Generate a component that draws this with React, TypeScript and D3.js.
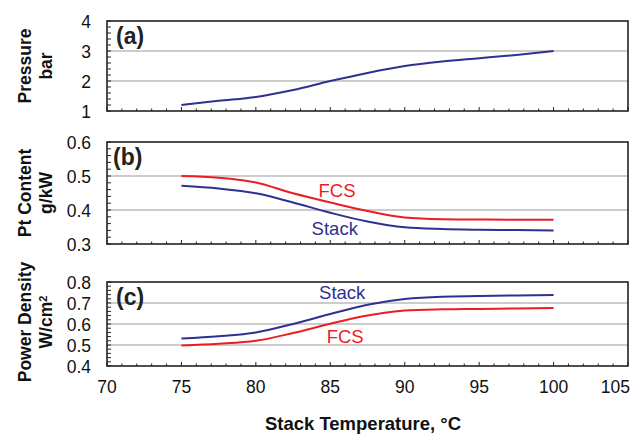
import React, { useRef, useEffect } from "react";
import * as d3 from "d3";

// stack temperature, degC
const temps = [75, 77.5, 80, 82.5, 85, 87.5, 90, 92.5, 95, 97.5, 100];
// (a) pressure, bar
const pressure = [1.2, 1.34, 1.47, 1.7, 2.0, 2.27, 2.5, 2.65, 2.76, 2.87, 3.0];
// (b) Pt content, g/kW
const ptFcs = [0.5, 0.495, 0.481, 0.449, 0.422, 0.397, 0.378, 0.373, 0.372, 0.371, 0.371];
const ptStack = [0.471, 0.463, 0.449, 0.422, 0.392, 0.366, 0.349, 0.344, 0.342, 0.341, 0.34];
// (c) power density, W/cm2
const pdStack = [0.531, 0.542, 0.56, 0.6, 0.648, 0.692, 0.719, 0.73, 0.733, 0.736, 0.738];
const pdFcs = [0.498, 0.506, 0.52, 0.557, 0.601, 0.64, 0.664, 0.67, 0.672, 0.674, 0.676];

const xTicks = [70, 75, 80, 85, 90, 95, 100, 105];
const pressureTicks = [1, 2, 3, 4];
const ptTicks = [0.3, 0.4, 0.5, 0.6];
const pdTicks = [0.4, 0.5, 0.6, 0.7, 0.8];

const NAVY = "#2e3192";
const RED = "#ed1c24";
const FONT = "'Liberation Sans', Arial, sans-serif";

const App = () => {
  const ref = useRef(null);

  const draw = (elt) => {
    d3.select(elt).select("svg").remove();
    const W = 631, H = 434;
    const svg = d3
      .select(elt)
      .append("svg")
      .attr("width", W)
      .attr("height", H)
      .style("position", "absolute")
      .style("left", 0)
      .style("top", 0)
      .style("font-family", FONT);

    svg.append("rect").attr("width", W).attr("height", H).attr("fill", "#fff");

    const x = d3.scaleLinear().domain([70, 105]).range([107, 628]);

    const panels = [
      {
        tag: "(a)", top: 21, bottom: 111, ticks: pressureTicks, minor: 0.2, fmt: d3.format("d"),
        title: ["Pressure", "bar"],
        series: [{ values: pressure, color: NAVY }],
        notes: [],
      },
      {
        tag: "(b)", top: 142, bottom: 244, ticks: ptTicks, minor: 0.02, fmt: d3.format(".1f"),
        title: ["Pt Content", "g/kW"],
        series: [{ values: ptFcs, color: RED }, { values: ptStack, color: NAVY }],
        notes: [
          { text: "FCS", t: 85.45, v: 0.438, color: RED },
          { text: "Stack", t: 85.3, v: 0.326, color: NAVY },
        ],
      },
      {
        tag: "(c)", top: 282, bottom: 366, ticks: pdTicks, minor: 0.02, fmt: d3.format(".1f"),
        title: ["Power Density", "W/cm"],
        series: [{ values: pdFcs, color: RED }, { values: pdStack, color: NAVY }],
        notes: [
          { text: "Stack", t: 85.8, v: 0.719, color: NAVY },
          { text: "FCS", t: 86.0, v: 0.51, color: RED },
        ],
      },
    ];

    panels.forEach((p, pi) => {
      const lo = p.ticks[0], hi = p.ticks[p.ticks.length - 1];
      const y = d3.scaleLinear().domain([lo, hi]).range([p.bottom, p.top]);
      const g = svg.append("g");

      // grid lines at inner major ticks
      g.selectAll(".grid")
        .data(p.ticks.slice(1, -1))
        .enter()
        .append("line")
        .attr("x1", x(70)).attr("x2", x(105))
        .attr("y1", (d) => y(d)).attr("y2", (d) => y(d))
        .attr("stroke", "#999")
        .attr("stroke-width", 1);

      // y minor/major ticks, inward
      const yMinor = d3.range(lo, hi + p.minor / 2, p.minor);
      g.selectAll(".ytick")
        .data(yMinor)
        .enter()
        .append("line")
        .attr("x1", x(70)).attr("x2", x(70) + 4)
        .attr("y1", (d) => y(d)).attr("y2", (d) => y(d))
        .attr("stroke", "#222").attr("stroke-width", 1);

      // x ticks, inward from bottom
      const xMinor = d3.range(70, 105.5, 1);
      g.selectAll(".xtick")
        .data(xMinor)
        .enter()
        .append("line")
        .attr("x1", (d) => x(d)).attr("x2", (d) => x(d))
        .attr("y1", p.bottom)
        .attr("y2", (d) => p.bottom - (d % 5 === 0 ? 4 : 2.5))
        .attr("stroke", "#222").attr("stroke-width", 1);

      // y tick labels
      g.selectAll(".ylab")
        .data(p.ticks)
        .enter()
        .append("text")
        .attr("x", 91)
        .attr("y", (d) => y(d))
        .attr("dy", "0.38em")
        .attr("text-anchor", "end")
        .style("font-size", "17.5px")
        .attr("fill", "#111")
        .text((d) => p.fmt(d));

      // curves
      const line = d3
        .line()
        .x((d) => x(d[0]))
        .y((d) => y(d[1]))
        .curve(d3.curveMonotoneX);
      p.series.forEach((s) => {
        g.append("path")
          .attr("d", line(temps.map((t, i) => [t, s.values[i]])))
          .attr("fill", "none")
          .attr("stroke", s.color)
          .attr("stroke-width", 2);
      });

      p.notes.forEach((n) => {
        g.append("text")
          .attr("x", x(n.t))
          .attr("y", y(n.v))
          .attr("text-anchor", "middle")
          .attr("fill", n.color)
          .style("font-size", "18.5px")
          .text(n.text);
      });

      // frame
      g.append("rect")
        .attr("x", x(70)).attr("y", p.top)
        .attr("width", x(105) - x(70)).attr("height", p.bottom - p.top)
        .attr("fill", "none")
        .attr("stroke", "#222")
        .attr("stroke-width", 1.6);

      // panel tag
      g.append("text")
        .attr("x", pi === 1 ? 113 : 116)
        .attr("y", p.top + 23)
        .style("font-size", "23px")
        .style("font-weight", "700")
        .attr("fill", "#222")
        .text(p.tag);

      // y title, two rotated lines
      const cy = (p.top + p.bottom) / 2 + (pi === 2 ? -2 : 0);
      p.title.forEach((t, li) => {
        const tx = g.append("text")
          .attr("transform", `translate(${li === 0 ? 31 : 52},${cy}) rotate(-90)`)
          .attr("text-anchor", "middle")
          .style("font-size", "17.5px")
          .style("font-weight", "700")
          .attr("fill", "#111")
          .text(t);
        if (pi === 2 && li === 1) {
          tx.append("tspan")
            .attr("dy", "-0.45em")
            .style("font-size", "11px")
            .text("2");
        }
      });
    });

    // x tick labels under bottom panel (last one kept inside the picture)
    svg.selectAll(".xlab")
      .data(xTicks)
      .enter()
      .append("text")
      .attr("x", (d, i) => (i === xTicks.length - 1 ? W - 1 : x(d)))
      .attr("y", 393)
      .attr("text-anchor", (d, i) => (i === xTicks.length - 1 ? "end" : "middle"))
      .style("font-size", "17.5px")
      .attr("fill", "#111")
      .text((d) => d);

    svg.append("text")
      .attr("x", 363)
      .attr("y", 430)
      .attr("text-anchor", "middle")
      .style("font-size", "18.5px")
      .style("font-weight", "700")
      .attr("fill", "#111")
      .text("Stack Temperature, °C");
  };

  useEffect(() => {
    if (ref.current) draw(ref.current);
  }, []);

  return <div ref={ref} style={{ width: 631, height: 434 }} />;
};

export default App;
